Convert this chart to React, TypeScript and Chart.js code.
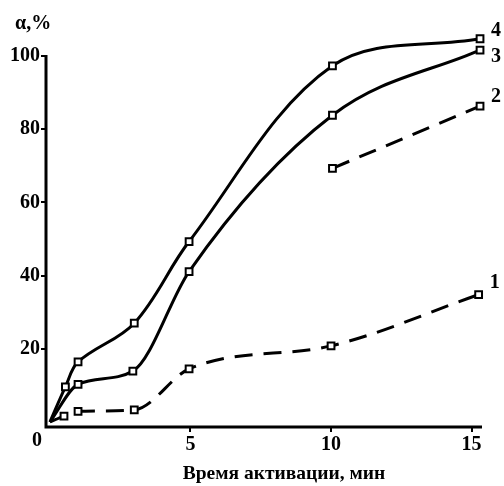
import React, { useEffect, useRef } from "react";
import { Chart, registerables } from "chart.js";

Chart.register(...registerables);

// Time of activation, min
const xTicks = [5, 10, 15];
const yTicks = [20, 40, 60, 80, 100];

const t1 = [0, 0.5, 1.0, 3.0, 4.95, 10.0, 15.25];
const s1 = [0, 1.6, 2.9, 3.3, 14.5, 20.8, 34.8];

const t2 = [10.05, 15.3];
const s2 = [69.3, 86.3];

const t3 = [0, 1.0, 2.95, 4.95, 10.05, 15.3];
const s3 = [0, 10.3, 13.9, 41.1, 83.8, 101.6];

const t4 = [0, 0.55, 1.0, 3.0, 4.95, 10.05, 15.3];
const s4 = [0, 9.6, 16.4, 27.0, 49.3, 97.3, 104.7];

const seriesLabels = ["1", "2", "3", "4"];
const yTitle = "α,%";
const xTitle = "Время активации, мин";
const zeroLabel = "0";

const FONT = '"Liberation Serif", "Times New Roman", serif';

function pts(t: number[], s: number[]) {
  return t.map((x, i) => ({ x, y: s[i] }));
}

export default function App() {
  const ref = useRef<HTMLCanvasElement | null>(null);

  useEffect(() => {
    if (!ref.current) return;
    const base = {
      borderColor: "#000",
      borderWidth: 3,
      pointStyle: "rect" as const,
      pointBackgroundColor: "#fff",
      pointBorderColor: "#000",
      pointBorderWidth: 2,
      clip: false as const,
      fill: false,
    };
    const r = (ctx: any) => (ctx.dataIndex === 0 && ctx.raw.x === 0 ? 0 : 4.8);

    const axisPlugin = {
      id: "axes",
      beforeDatasetsDraw(chart: any) {
        const ctx = chart.ctx;
        const ys = chart.scales.y;
        const a = chart.chartArea;
        ctx.save();
        ctx.strokeStyle = "#000";
        ctx.lineWidth = 3;
        ctx.beginPath();
        ctx.moveTo(a.left, ys.getPixelForValue(100) - 1);
        ctx.lineTo(a.left, a.bottom);
        ctx.lineTo(a.right, a.bottom);
        ctx.stroke();
        ctx.restore();
      },
    };

    const textPlugin = {
      id: "texts",
      afterDraw(chart: any) {
        const ctx = chart.ctx;
        const xs = chart.scales.x;
        const ys = chart.scales.y;
        ctx.save();
        ctx.fillStyle = "#000";
        ctx.font = `bold 20px ${FONT}`;
        ctx.textBaseline = "middle";
        ctx.textAlign = "left";
        ctx.fillText(yTitle, 15, 24);
        ctx.textAlign = "center";
        ctx.fillText(zeroLabel, xs.getPixelForValue(0) - 13, xs.bottom - 45);
        ctx.font = `bold 19.5px ${FONT}`;
        ctx.fillText(xTitle, (xs.left + xs.right) / 2 + 20, xs.top + 47);
        ctx.font = `bold 20px ${FONT}`;
        ctx.textAlign = "left";
        const ends: [number[], number[], number][] = [
          [t1, s1, -12],
          [t2, s2, -9],
          [t3, s3, 7],
          [t4, s4, -8],
        ];
        ends.forEach(([t, s, dy], i) => {
          const px = xs.getPixelForValue(t[t.length - 1]);
          const py = ys.getPixelForValue(s[s.length - 1]);
          ctx.fillText(seriesLabels[i], px + 11, py + dy);
        });
        ctx.restore();
      },
    };

    const tickGrid = {
      drawOnChartArea: false,
      drawTicks: true,
      tickLength: 5,
      color: "#000",
      lineWidth: 2,
    };

    const chart = new Chart(ref.current, {
      type: "line",
      data: {
        datasets: [
          { ...base, label: "1", data: pts(t1, s1), borderDash: [18, 11], pointRadius: r, cubicInterpolationMode: "monotone" },
          { ...base, label: "2", data: pts(t2, s2), borderDash: [18, 11], pointRadius: r, tension: 0.4 },
          { ...base, label: "3", data: pts(t3, s3), pointRadius: r, cubicInterpolationMode: "monotone" },
          { ...base, label: "4", data: pts(t4, s4), pointRadius: r, tension: 0.35 },
        ],
      },
      options: {
        animation: false,
        responsive: false,
        devicePixelRatio: 1,
        layout: { padding: { top: 34, right: 22, left: 0, bottom: 0 } },
        plugins: {
          legend: { display: false },
          tooltip: { enabled: false },
        },
        scales: {
          x: {
            type: "linear",
            min: -0.14,
            max: 15.37,
            afterBuildTicks: (s: any) => {
              s.ticks = xTicks.map((v) => ({ value: v }));
            },
            afterFit: (s: any) => {
              s.height = 59;
            },
            grid: tickGrid,
            border: { display: false },
            ticks: {
              color: "#000",
              padding: 1,
              font: { family: FONT, size: 20, weight: "bold" },
            },
          },
          y: {
            type: "linear",
            min: -1.37,
            max: 106,
            afterBuildTicks: (s: any) => {
              s.ticks = yTicks.map((v) => ({ value: v }));
            },
            afterFit: (s: any) => {
              s.width = 46;
            },
            grid: tickGrid,
            border: { display: false },
            ticks: {
              color: "#000",
              padding: 1,
              font: { family: FONT, size: 20, weight: "bold" },
            },
          },
        },
      },
      plugins: [axisPlugin, textPlugin],
    });
    return () => chart.destroy();
  }, []);

  return (
    <div style={{ position: "absolute", left: 0, top: 0, width: 504, height: 486, background: "#fff" }}>
      <canvas ref={ref} width={504} height={486} style={{ width: 504, height: 486 }} />
    </div>
  );
}
